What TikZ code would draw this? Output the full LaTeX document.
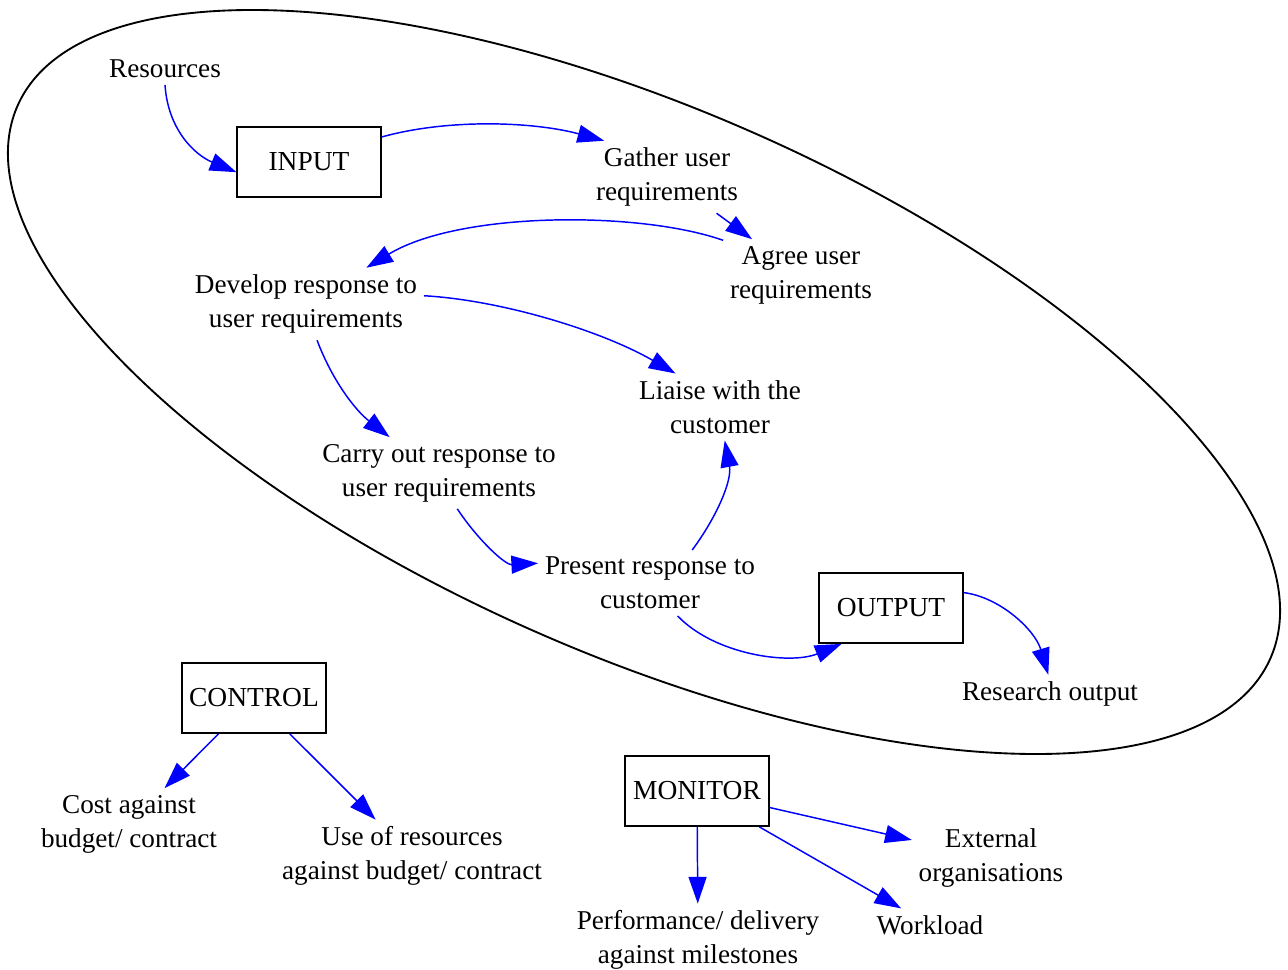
\documentclass[tikz,border=0pt]{standalone}
\usepackage{fontspec}
\setmainfont{Liberation Serif}
\usetikzlibrary{arrows.meta}
\tikzset{
  lbl/.style={align=center, inner sep=5pt, font=\fontsize{20.4pt}{25.5pt}\selectfont},
  boxnode/.style={draw, line width=1.3pt, minimum width=107.5pt, minimum height=52.5pt, inner sep=0pt, font=\fontsize{20.6pt}{25.5pt}\selectfont},
  edge/.style={draw=blue, line width=1.1pt, -{Triangle[length=20pt,width=13.5pt]}, fill=none},
}
\begin{document}
\begin{tikzpicture}[x=0.75pt, y=-0.75pt]
\useasboundingbox (0,0) rectangle (1288,970);
\draw[line width=1.4pt, rotate around={-23.8:(644,382)}] (644,382) ellipse [x radius=513.5pt, y radius=204.2pt];

\node[lbl] (res) at (165,69) {Resources};
\node[boxnode] (inp) at (309,162) {INPUT};
\node[lbl] (gath) at (667,177) {Gather user\\requirements};
\node[lbl] (agree) at (801,275) {Agree user\\requirements};
\node[lbl] (dev) at (306,304) {Develop response to\\user requirements};
\node[lbl] (liaise) at (720,407) {Liaise with the\\customer};
\node[lbl] (carry) at (439,473) {Carry out response to\\user requirements};
\node[lbl] (pres) at (650,583) {Present response to\\customer};
\node[boxnode] (out) at (891,608) {OUTPUT};
\node[lbl] (resout) at (1050,694) {Research output};
\node[boxnode] (ctrl) at (254,698) {CONTROL};
\node[lbl] (cost) at (129,824) {Cost against\\budget/ contract};
\node[lbl] (use) at (412,856) {Use of resources\\against budget/ contract};
\node[boxnode] (mon) at (697,791) {MONITOR};
\node[lbl] (ext) at (991,858) {External\\organisations};
\node[lbl] (perf) at (698,940) {Performance/ delivery\\against milestones};
\node[lbl] (work) at (930,925) {Workload};

\path[edge] (res.south) .. controls (168,130) and (195,155) .. (inp.188);
\path[edge] (inp.19) .. controls (450,118) and (535,122) .. (gath.150);
\path[edge] (gath) -- (agree);
\path[edge] (agree.156) .. controls (640,211) and (460,211) .. (dev.31);
\path[edge] (dev.4) .. controls (500,300) and (600,330) .. (liaise.143);
\path[edge] (dev.-73) .. controls (332,380) and (355,410) .. (carry.144);
\path[edge] (carry.-63) .. controls (478,540) and (505,565) .. (pres.170);
\path[edge] (pres.38) .. controls (718,515) and (732,480) .. (liaise.-82);
\path[edge] (pres.-50) .. controls (715,655) and (790,665) .. (out.216);
\path[edge] (out.12) .. controls (1000,597) and (1035,630) .. (resout.95);
\path[edge] (ctrl) -- (cost);
\path[edge] (ctrl) -- (use);
\path[edge] (mon) -- (perf);
\path[edge] (mon) -- (ext);
\path[edge] (mon) -- (work);
\end{tikzpicture}
\end{document}
